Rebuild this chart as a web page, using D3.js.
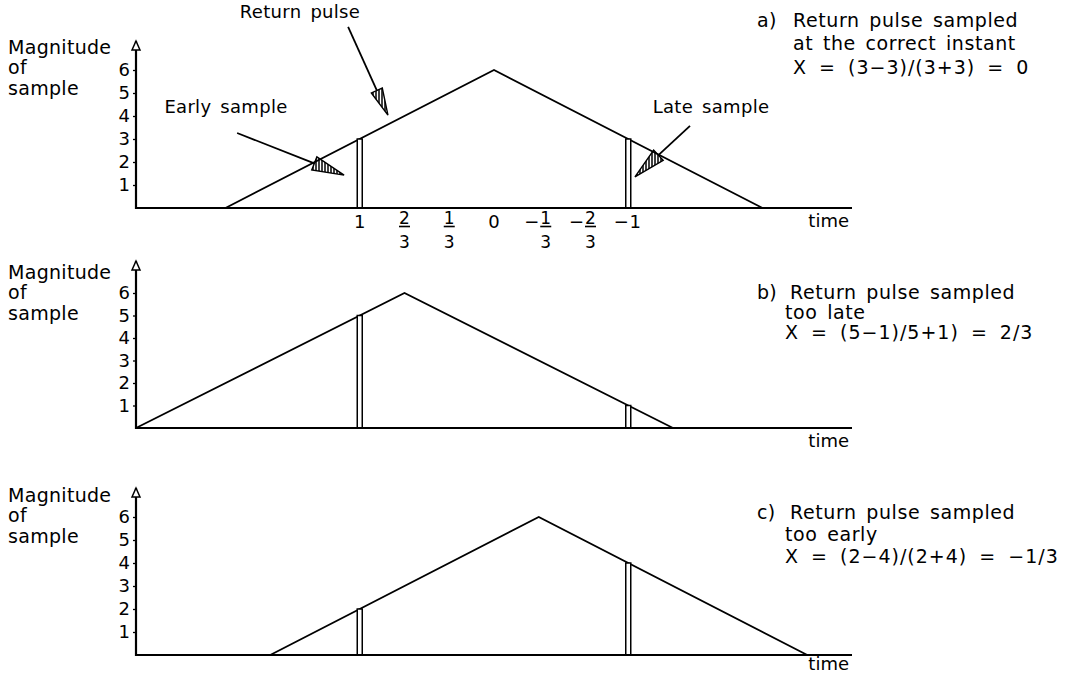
<!DOCTYPE html>
<html>
<head>
<meta charset="utf-8">
<title>Return pulse sampling</title>
<script src="https://d3js.org/d3.v7.min.js"></script>
<style>
  body { margin: 0; background: #fff; }
  svg text { font-family: "DejaVu Sans", sans-serif; fill: #000; }
</style>
</head>
<body>
<div id="chart"></div>
<script>
// Data
const panels = ["a", "b", "c"];
const pulseStart = [2, 0, 3];
const pulsePeak = [8, 6, 9];
const pulseEnd = [14, 12, 15];
const peakValue = 6;
const sampleTimes = [5, 11];
const earlyValues = [3, 5, 2];
const lateValues = [3, 1, 4];
const yTicks = [1, 2, 3, 4, 5, 6];
const xTickTimes = [5, 6, 7, 8, 9, 10, 11];
const xTickSign = ["", "", "", "", "−", "−", "−"];
const xTickNum = ["1", "2", "1", "0", "1", "2", "1"];
const xTickDen = ["", "3", "3", "", "3", "3", ""];
const captionLetter = ["a)", "b)", "c)"];
const captionLines = [
  ["Return pulse sampled", "at the correct instant", "X = (3−3)/(3+3) = 0"],
  ["Return pulse sampled", "too late", "X = (5−1)/5+1) = 2/3"],
  ["Return pulse sampled", "too early", "X = (2−4)/(2+4) = −1/3"]
];
const axisLabel = ["Magnitude", "of", "sample"];

// Layout
const width = 1069, height = 673;
const baselines = [208, 428, 655];
const plotHeights = [138, 135, 138];
const axisLabelTop = [47, 272, 495];
const timeOffset = [19, 19, 15];
const captionTop = [20, 292, 512];
const captionStep = [23.5, 20, 22];
const captionIndent = [[793, 793, 793], [790, 785, 785], [790, 785, 785]];

const svg = d3.select("#chart").append("svg")
  .attr("width", width)
  .attr("height", height);

const defs = svg.append("defs");
defs.append("pattern")
  .attr("id", "hatch")
  .attr("patternUnits", "userSpaceOnUse")
  .attr("width", 3).attr("height", 3)
  .append("line")
  .attr("x1", 1).attr("y1", 0).attr("x2", 1).attr("y2", 3)
  .attr("stroke", "#000").attr("stroke-width", 1.5);

const x = d3.scaleLinear().domain([0, 16]).range([136, 852]);

function label(g, s, tx, ty, size, anchor, ls, ws) {
  return g.append("text")
    .attr("x", tx).attr("y", ty)
    .attr("dy", "0.35em")
    .attr("text-anchor", anchor || "start")
    .attr("font-size", size)
    .attr("letter-spacing", ls == null ? 0.3 : ls)
    .attr("word-spacing", ws == null ? 3 : ws)
    .text(s);
}

panels.forEach((p, i) => {
  const base = baselines[i];
  const y = d3.scaleLinear().domain([0, peakValue]).range([base, base - plotHeights[i]]);
  const g = svg.append("g");

  // pulse
  const line = d3.line().x(d => x(d[0])).y(d => y(d[1]));
  g.append("path")
    .attr("d", line([[pulseStart[i], 0], [pulsePeak[i], peakValue], [pulseEnd[i], 0]]))
    .attr("fill", "none")
    .attr("stroke", "#000")
    .attr("stroke-width", 1.8);

  // sample bars
  const vals = [earlyValues[i], lateValues[i]];
  g.selectAll("rect.sample")
    .data(sampleTimes.map((t, k) => ({ t, v: vals[k] })))
    .join("rect")
    .attr("class", "sample")
    .attr("x", d => x(d.t) - 2.5)
    .attr("y", d => y(d.v))
    .attr("width", 5)
    .attr("height", d => y(0) - y(d.v))
    .attr("fill", "#fff")
    .attr("stroke", "#000")
    .attr("stroke-width", 1.5);

  // time axis
  g.append("line")
    .attr("x1", x(0)).attr("x2", x(16))
    .attr("y1", base).attr("y2", base)
    .attr("stroke", "#000").attr("stroke-width", 2.2);
  g.append("text")
    .attr("x", 849).attr("y", base + timeOffset[i])
    .attr("text-anchor", "end")
    .attr("font-size", 18)
    .text("time");

  // magnitude axis
  const yAxis = d3.axisLeft(y).tickValues(yTicks).tickFormat(d3.format("d")).tickSize(3).tickPadding(3);
  const ag = g.append("g").attr("transform", `translate(${x(0)},0)`).call(yAxis);
  ag.select(".domain").remove();
  ag.selectAll("text")
    .attr("font-size", 18)
    .style("font-family", "DejaVu Sans");
  ag.selectAll("line").attr("stroke-width", 1.3);

  const top = base - 167;
  g.append("line")
    .attr("x1", x(0)).attr("x2", x(0))
    .attr("y1", base + 1).attr("y2", top)
    .attr("stroke", "#000").attr("stroke-width", 2.2);
  g.append("path")
    .attr("d", `M${x(0)},${top}L${x(0) - 4},${top + 9}L${x(0) + 4},${top + 9}Z`)
    .attr("fill", "#fff").attr("stroke", "#000").attr("stroke-width", 1.5);

  axisLabel.forEach((s, k) => label(g, s, 8, axisLabelTop[i] + k * 20.5, 19));

  // caption
  label(g, captionLetter[i], 757, captionTop[i], 19);
  captionLines[i].forEach((s, k) =>
    label(g, s, captionIndent[i][k], captionTop[i] + k * captionStep[i], 19, "start",
      k === 2 ? 1 : 0.6, k === 2 ? 5 : 3));

  // discriminator tick labels on the first panel
  if (i === 0) {
    const tg = g.selectAll("g.xtick")
      .data(xTickTimes.map((t, k) => ({ t, s: xTickSign[k], n: xTickNum[k], d: xTickDen[k] })))
      .join("g")
      .attr("class", "xtick")
      .attr("transform", d => `translate(${x(d.t)},${base})`);
    tg.each(function (d) {
      const el = d3.select(this);
      const off = d.s ? 7 : 0;
      if (d.s) {
        el.append("text").attr("x", -off).attr("y", 14).attr("dy", "0.35em")
          .attr("text-anchor", "middle").attr("font-size", 18).text(d.s);
      }
      if (d.d) {
        el.append("text").attr("x", off).attr("y", 10).attr("dy", "0.35em")
          .attr("text-anchor", "middle").attr("font-size", 17).text(d.n);
        el.append("line").attr("x1", off - 5.5).attr("x2", off + 5.5)
          .attr("y1", 18.5).attr("y2", 18.5)
          .attr("stroke", "#000").attr("stroke-width", 1.6);
        el.append("text").attr("x", off).attr("y", 34).attr("dy", "0.35em")
          .attr("text-anchor", "middle").attr("font-size", 17).text(d.d);
      } else {
        el.append("text").attr("x", off).attr("y", 14).attr("dy", "0.35em")
          .attr("text-anchor", "middle").attr("font-size", 18).text(d.n);
      }
    });

    // pointer arrows, in (time, magnitude) units
    const pointers = [
      { from: [4.74, 7.87], to: [5.63, 4.04], len: 27, half: 6 },
      { from: [2.26, 3.26], to: [4.65, 1.43], len: 32, half: 7 },
      { from: [12.38, 3.57], to: [11.15, 1.35], len: 32, half: 7 }
    ];
    pointers.forEach(a => {
      const x1 = x(a.from[0]), y1 = y(a.from[1]);
      const x2 = x(a.to[0]), y2 = y(a.to[1]);
      const dx = x2 - x1, dy = y2 - y1, l = Math.hypot(dx, dy);
      const ux = dx / l, uy = dy / l;
      const bx = x2 - ux * a.len, by = y2 - uy * a.len;
      g.append("line")
        .attr("x1", x1).attr("y1", y1).attr("x2", bx).attr("y2", by)
        .attr("stroke", "#000").attr("stroke-width", 1.8);
      g.append("path")
        .attr("d", `M${x2},${y2}L${bx - uy * a.half},${by + ux * a.half}L${bx + uy * a.half},${by - ux * a.half}Z`)
        .attr("fill", "url(#hatch)").attr("stroke", "#000").attr("stroke-width", 1.4);
    });
    label(g, "Return pulse", 300, 12, 18, "middle");
    label(g, "Early sample", 226, 107, 18, "middle");
    label(g, "Late sample", 711, 107, 18, "middle");
  }
});
</script>
</body>
</html>
